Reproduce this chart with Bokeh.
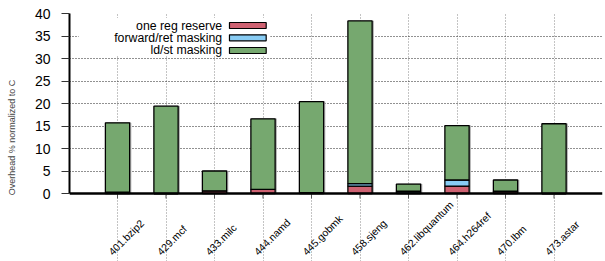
import math
from bokeh.plotting import figure
from bokeh.models import ColumnDataSource, FixedTicker, Range1d, Span
from bokeh.core.properties import value
from bokeh.embed import file_html
from bokeh.resources import INLINE

# ---- data ----
benchmarks = ["401.bzip2", "429.mcf", "433.milc", "444.namd", "445.gobmk",
              "458.sjeng", "462.libquantum", "464.h264ref", "470.lbm", "473.astar"]
one_reg_reserve = [0.3, 0.0, 0.6, 0.9, 0.2, 1.65, 0.15, 1.65, 0.45, 0.0]
forward_ret_masking = [0.0, 0.0, 0.0, 0.0, 0.0, 0.55, 0.35, 1.35, 0.05, 0.0]
ld_st_masking = [15.4, 19.4, 4.4, 15.7, 20.2, 36.15, 1.6, 12.1, 2.5, 15.5]
series_names = ["one reg reserve", "forward/ret masking", "ld/st masking"]
series_colors = ["#CF6272", "#88CCF4", "#76A86F"]
y_ticks = [0, 5, 10, 15, 20, 25, 30, 35, 40]

FONT = "Liberation Sans"
idx = list(range(len(benchmarks)))
totals = [a + b + c for a, b, c in zip(one_reg_reserve, forward_ret_masking, ld_st_masking)]

X0, X1 = -0.99, 10.0
X_PX = 533 / (X1 - X0)          # px per category
Y_PX = 4.5                      # px per y unit
Y_LOW = -68 / Y_PX

src = ColumnDataSource(dict(
    x=idx, cat=benchmarks, zero=[0] * len(idx), total=totals,
    xs=[i + 1.2 / X_PX for i in idx],
    r=one_reg_reserve, f=forward_ret_masking, g=ld_st_masking))

p = figure(width=605, height=261, output_backend="svg", toolbar_location=None,
           x_range=Range1d(X0, X1), y_range=Range1d(Y_LOW, 40),
           min_border_left=69, min_border_right=3, min_border_top=13,
           min_border_bottom=0)
p.outline_line_color = None
p.xaxis.visible = False

# grids (limited to the data area)
p.ygrid.ticker = FixedTicker(ticks=y_ticks)
p.ygrid.grid_line_color = "#222222"
p.ygrid.grid_line_dash = "1 2"
p.ygrid.grid_line_width = 1
p.xgrid.ticker = FixedTicker(ticks=idx)
p.xgrid.bounds = (0, 40)
p.xgrid.grid_line_color = "#888888"
p.xgrid.grid_line_dash = "1 2"
p.xgrid.grid_line_width = 1

# light shadow on the right of each bar (gnuplot rendering)
p.vbar(x="xs", top="total", bottom=0, width=0.5, source=src,
       fill_color="#b0b0b0", line_color="#b0b0b0", line_width=1)

# bars
p.vbar_stack(["r", "f", "g"], x="x", width=0.5, source=src,
             color=series_colors, line_color="black", line_width=1.3)

# x axis baseline and ticks
p.add_layout(Span(location=0, dimension="width", line_color="black",
                  line_width=2.5))
p.ray(x="x", y="zero", source=src, length=5, length_units="screen",
      angle=-math.pi / 2, line_color="#555555", line_width=1)

# rotated category labels anchored at their start (gnuplot style)
p.text(x="x", y=-60 / Y_PX, text="cat", source=src, angle=math.pi / 4,
       x_offset=-7, text_align="left", text_baseline="alphabetic",
       text_font=value(FONT), text_font_size="10.4px", text_color="black")

# legend (gnuplot style: label left of swatch)
p.quad(left=[-0.80], right=[3.15], bottom=[30.6], top=[39.0],
       fill_color="white", line_color=None)
leg_y = [37.33, 34.6, 31.78]
p.rect(x=[2.687] * 3, y=leg_y, width=0.757, height=1.33,
       fill_color=series_colors, line_color="black", line_width=1.2)
p.text(x=[2.158] * 3, y=leg_y, text=series_names, text_align="right",
       text_baseline="middle", text_font=value(FONT), text_font_size="12.3px",
       text_color="black")

# y axis
ya = p.yaxis[0]
ya.bounds = (0, 40)
ya.ticker = FixedTicker(ticks=y_ticks)
ya.major_tick_out = 8
ya.major_tick_in = 0
ya.minor_tick_out = 0
ya.minor_tick_in = 0
ya.axis_line_width = 2
ya.axis_line_color = "black"
ya.major_tick_line_color = "#333333"
ya.major_label_standoff = 11
ya.major_label_text_font = FONT
ya.major_label_text_font_size = "14px"
ya.major_label_text_color = "black"
ya.axis_label = "Overhead % normalized to C"
ya.axis_label_text_font = FONT
ya.axis_label_text_font_style = "normal"
ya.axis_label_text_font_size = "9px"
ya.axis_label_text_color = "#444444"
ya.axis_label_standoff = 15

open("out.html", "w").write(file_html(p, INLINE))
